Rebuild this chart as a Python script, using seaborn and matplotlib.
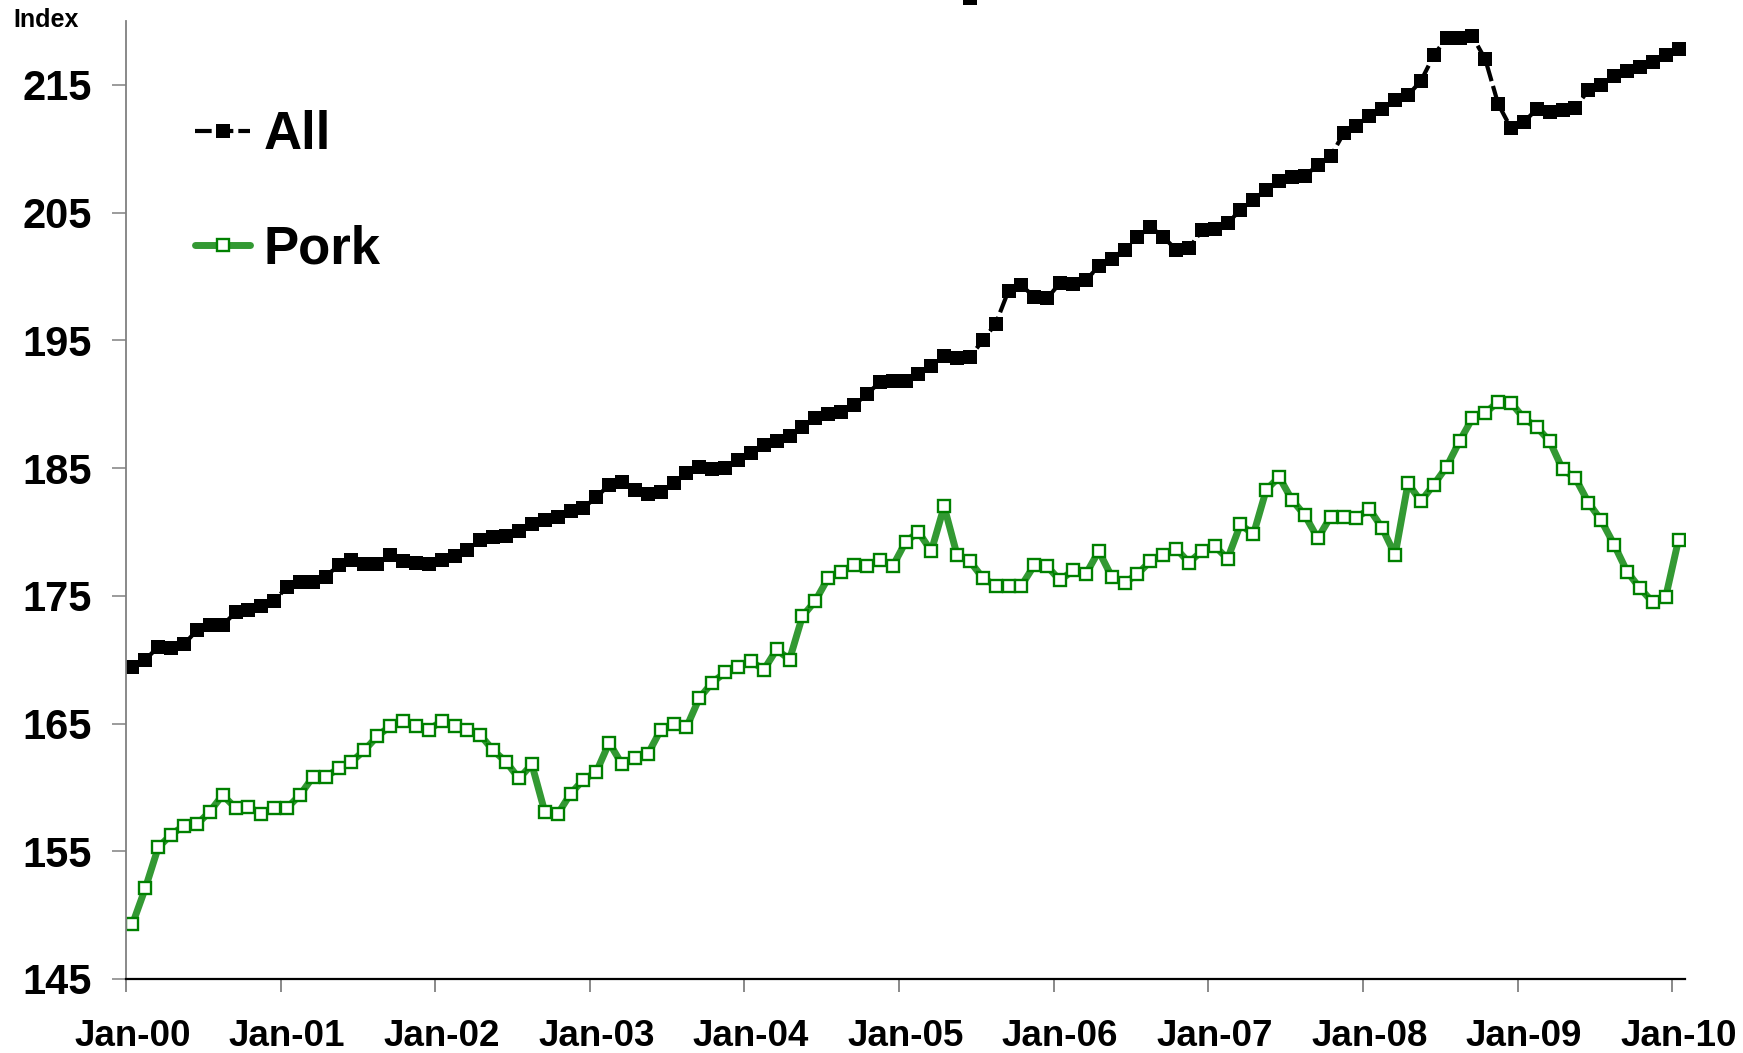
import numpy as np
import pandas as pd
import matplotlib
matplotlib.use("Agg")
import matplotlib.pyplot as plt
import seaborn as sns

# ---------------- data ----------------
tick_labels = ["Jan-00", "Jan-01", "Jan-02", "Jan-03", "Jan-04", "Jan-05",
               "Jan-06", "Jan-07", "Jan-08", "Jan-09", "Jan-10"]

all_index = [169.4, 170.0, 171.0, 170.9, 171.2, 172.3, 172.7, 172.7, 173.7, 173.9,
             174.2, 174.6, 175.7, 176.1, 176.1, 176.5, 177.4, 177.8, 177.5, 177.5,
             178.2, 177.7, 177.6, 177.5, 177.8, 178.1, 178.6, 179.4, 179.6, 179.7,
             180.1, 180.6, 180.9, 181.2, 181.6, 181.9, 182.7, 183.7, 183.9, 183.3,
             183.0, 183.1, 183.8, 184.6, 185.1, 184.9, 185.0, 185.6, 186.2, 186.8,
             187.1, 187.5, 188.2, 188.9, 189.2, 189.4, 189.9, 190.8, 191.7, 191.8,
             191.8, 192.4, 193.0, 193.8, 193.6, 193.7, 195.0, 196.3, 198.9, 199.3,
             198.4, 198.3, 199.5, 199.4, 199.7, 200.8, 201.4, 202.1, 203.1, 203.9,
             203.1, 202.1, 202.2, 203.6, 203.7, 204.2, 205.2, 206.0, 206.8, 207.5,
             207.8, 207.9, 208.7, 209.4, 211.2, 211.8, 212.6, 213.1, 213.8, 214.2,
             215.3, 217.3, 218.7, 218.7, 218.8, 217.0, 213.5, 211.6, 212.1, 213.1,
             212.9, 213.0, 213.2, 214.6, 215.0, 215.7, 216.1, 216.4, 216.8, 217.3,
             217.8]

pork_index = [149.3, 152.1, 155.3, 156.3, 157.0, 157.1, 158.1, 159.4, 158.4, 158.5,
              157.9, 158.4, 158.4, 159.4, 160.8, 160.8, 161.5, 162.0, 162.9, 164.0,
              164.8, 165.2, 164.8, 164.5, 165.2, 164.8, 164.5, 164.1, 162.9, 162.0,
              160.7, 161.8, 158.1, 157.9, 159.5, 160.6, 161.2, 163.5, 161.8, 162.3,
              162.6, 164.5, 165.0, 164.7, 167.0, 168.2, 169.0, 169.4, 169.9, 169.2,
              170.8, 170.0, 173.4, 174.6, 176.4, 176.9, 177.4, 177.3, 177.8, 177.3,
              179.2, 180.0, 178.5, 182.0, 178.2, 177.7, 176.4, 175.8, 175.8, 175.8,
              177.4, 177.3, 176.2, 177.0, 176.7, 178.5, 176.5, 176.0, 176.7, 177.7,
              178.2, 178.7, 177.6, 178.5, 178.9, 177.9, 180.6, 179.8, 183.3, 184.3,
              182.5, 181.3, 179.5, 181.2, 181.2, 181.1, 181.8, 180.3, 178.2, 183.8,
              182.4, 183.7, 185.1, 187.1, 188.9, 189.3, 190.2, 190.1, 188.9, 188.2,
              187.1, 184.9, 184.2, 182.3, 180.9, 179.0, 176.9, 175.6, 174.5, 174.9,
              179.4]

# stray marker visible at the very top edge of the original chart
stray_month = [65]
stray_value = [221.8]

yticks = [145, 155, 165, 175, 185, 195, 205, 215]

n = len(all_index)
assert n == len(pork_index) == 121
month_pos = np.arange(n)

df = pd.DataFrame({"month": month_pos, "All": all_index, "Pork": pork_index})

# ---------------- style ----------------
sns.set_theme(style="white")
plt.rcParams["font.family"] = ["Liberation Sans", "DejaVu Sans"]
plt.rcParams["font.weight"] = "bold"
plt.rcParams["text.color"] = "black"
plt.rcParams["xtick.labelcolor"] = "black"
plt.rcParams["ytick.labelcolor"] = "black"

W, H = 1743, 1053
fig = plt.figure(figsize=(W / 100, H / 100), dpi=100)
ax = fig.add_axes([126 / W, 1 - 979 / H, (1685 - 126) / W, (979 - 21) / H])

sns.lineplot(data=df, x="month", y="All", ax=ax, color="black",
             linewidth=3, linestyle=(0, (4, 1.2)),
             marker="s", markersize=10.3, markerfacecolor="black",
             markeredgecolor="black", markeredgewidth=0, label="All")
sns.lineplot(data=df, x="month", y="Pork", ax=ax, color="#339933",
             linewidth=5, marker="s", markersize=8.6,
             markerfacecolor="white", markeredgecolor="#008000",
             markeredgewidth=1.7, label="Pork")
sns.scatterplot(x=stray_month, y=stray_value, ax=ax, marker="s", s=106,
                color="black", linewidth=0, clip_on=False, legend=False)

ax.set_xlim(-0.5, n - 0.5)
ax.set_ylim(145, 220)
ax.set_xlabel("")
ax.set_ylabel("")

# y axis
ax.set_yticks(yticks)
ax.set_yticklabels([str(v) for v in yticks], fontsize=30, fontweight="bold",
                   color="black")
ax.tick_params(axis="y", which="major", direction="out", length=9.8, width=1.1,
               color="#808080", pad=15, left=True)

# x axis: tick marks at category boundaries, labels centred on categories
ax.set_xticks(np.arange(0, n, 12) - 0.5)
ax.set_xticklabels([])
ax.set_xticks(np.arange(0, n, 12), minor=True)
ax.set_xticklabels(tick_labels, minor=True, fontsize=26.5, fontweight="bold",
                   color="black")
ax.tick_params(axis="x", which="major", direction="out", length=9.2, width=1.3,
               color="#808080", bottom=True)
ax.tick_params(axis="x", which="minor", length=0, pad=29, bottom=True)

for side in ("top", "right"):
    ax.spines[side].set_visible(False)
ax.spines["left"].set_color("#808080")
ax.spines["left"].set_linewidth(1.3)
ax.spines["bottom"].set_color("black")
ax.spines["bottom"].set_linewidth(1.6)
ax.grid(False)

handles, labels = ax.get_legend_handles_labels()
ax.legend(handles[:2], labels[:2], loc="upper left",
          bbox_to_anchor=(195 / W, 1 - 110 / H), bbox_transform=fig.transFigure,
          frameon=False, prop={"size": 38, "weight": "bold"},
          handlelength=1.05, handletextpad=0.25, labelspacing=1.22,
          borderpad=0, borderaxespad=0, numpoints=1)

fig.text(13 / W, 1 - 20 / H, "Index", fontsize=18, fontweight="bold",
         ha="left", va="center", color="black")

fig.savefig("out.png", dpi=100, facecolor="white")
